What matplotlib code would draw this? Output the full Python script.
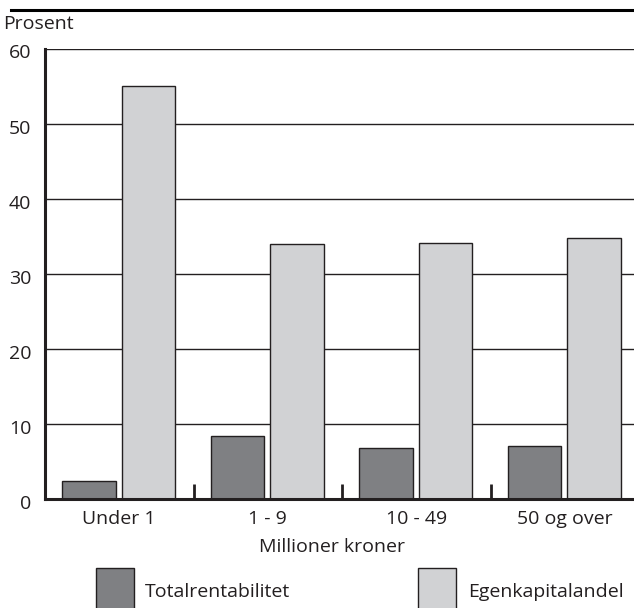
import matplotlib
matplotlib.use("Agg")
import matplotlib.pyplot as plt
import matplotlib.transforms as mtransforms
from matplotlib.lines import Line2D
from matplotlib.patches import Rectangle

categories = ["Under 1", "1 - 9", "10 - 49", "50 og over"]
totalrentabilitet = [2.4, 8.4, 6.8, 7.1]
egenkapitalandel = [55.0, 33.9, 34.1, 34.8]
yticks = [0, 10, 20, 30, 40, 50, 60]
series_names = ["Totalrentabilitet", "Egenkapitalandel"]
xlabel = "Millioner kroner"
ylabel = "Prosent"

plt.rcParams['font.family'] = ['Open Sans', 'DejaVu Sans']
FS = 14
TXT = "#231f20"
W, H = 634, 608
fig = plt.figure(figsize=(W / 100, H / 100), dpi=100)

ax_left, ax_right = 45, 639
ax_bottom, ax_top = 499, 48.5
ax = fig.add_axes([ax_left / W, 1 - ax_bottom / H, (W - ax_left) / W, (ax_bottom - ax_top) / H])
group_px = (ax_right - ax_left) / 4
ax.set_xlim(0, (W - ax_left) / group_px)
ax.set_ylim(0, 60)

dark = "#7f8083"
light = "#d1d2d4"
edge = "#231f20"
n = len(categories)
xs = list(range(n))
ax.bar([x + 0.296 for x in xs], totalrentabilitet, width=0.36, color=dark,
       edgecolor=edge, linewidth=1.0, zorder=3)
ax.bar([x + 0.697 for x in xs], egenkapitalandel, width=0.36, color=light,
       edgecolor=edge, linewidth=1.0, zorder=3)

ax.set_yticks(yticks)
ax.set_yticklabels([str(v) for v in yticks], fontsize=FS, color=TXT)
ax.tick_params(axis='y', length=0, pad=10)
shift = mtransforms.ScaledTranslation(0, -3 / 100, fig.dpi_scale_trans)
for lab in ax.get_yticklabels():
    lab.set_transform(lab.get_transform() + shift)
ax.yaxis.grid(True, color=edge, linewidth=1.0, zorder=1)
ax.set_axisbelow(True)

ax.set_xticks([1, 2, 3])
ax.set_xticklabels([])
ax.tick_params(axis='x', which='major', direction='in', length=11, width=2, color=edge)
ax.set_xticks([x + 0.5 for x in xs], minor=True)
ax.set_xticklabels(categories, minor=True, fontsize=FS, color=TXT)
ax.tick_params(axis='x', which='minor', length=0, pad=8)

for s in ["top", "right"]:
    ax.spines[s].set_visible(False)
for s in ["left", "bottom"]:
    ax.spines[s].set_linewidth(2.2)
    ax.spines[s].set_color(edge)
    ax.spines[s].set_zorder(4)

fig.text(332 / W, 1 - 547 / H, xlabel, ha='center', va='center', fontsize=FS, color=TXT)
fig.text(3 / W, 1 - 29 / H, ylabel, ha='left', va='baseline', fontsize=FS, color=TXT)

# top rule
fig.add_artist(Line2D([11 / W, 1], [1 - 10 / H, 1 - 10 / H], color="black", linewidth=2.2,
                      transform=fig.transFigure))

# legend
for (bx, tx), name, col in zip([(96, 145), (418, 468)], series_names, [dark, light]):
    fig.add_artist(Rectangle((bx / W, 1 - 612 / H), 38 / W, 44 / H, facecolor=col,
                             edgecolor=edge, linewidth=1.0, transform=fig.transFigure))
    fig.text(tx / W, 1 - 592 / H, name, ha='left', va='center', fontsize=FS, color=TXT)

fig.savefig("out.png", dpi=100)
